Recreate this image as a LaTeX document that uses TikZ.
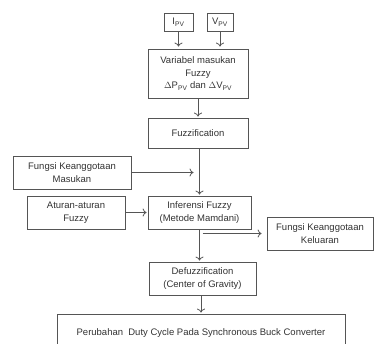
\documentclass[tikz,border=0pt]{standalone}
\usepackage{fontspec}
\setmainfont{Liberation Sans}
\usepackage{tikz}
\usetikzlibrary{arrows,arrows.meta,calc}
\definecolor{garis}{RGB}{85,85,85}
\definecolor{tulisan}{RGB}{50,50,50}
\tikzset{
	kotak/.style={draw=garis, line width=0.8pt, text=tulisan, align=center, inner sep=0pt, font=\fontsize{9.5}{12.5}\selectfont},
	panah/.style={draw=garis, line width=0.8pt, -{To[length=4pt,width=8pt]}}
}
\begin{document}
\begin{tikzpicture}[x=1pt,y=-1pt]
			\useasboundingbox (0,0) rectangle (374,344);
			\clip (0,0) rectangle (374,344);
			\node[kotak, minimum width=29pt, minimum height=18pt] (ipv) at (178.5,22) {I\textsubscript{PV}};
			\node[kotak, minimum width=26pt, minimum height=18pt] (vpv) at (220,22) {V\textsubscript{PV}};
			\node[kotak, minimum width=100pt, minimum height=49pt] (var) at (198,73.5) {Variabel masukan\\Fuzzy\\$\Delta$P\textsubscript{PV} dan $\Delta$V\textsubscript{PV}};
			\node[kotak, minimum width=100pt, minimum height=30pt] (fuzz) at (198,133) {Fuzzification};
			\node[kotak, minimum width=118pt, minimum height=33pt] (masuk) at (72,172.5) {Fungsi Keanggotaan\\Masukan};
			\node[kotak, minimum width=98pt, minimum height=33pt] (aturan) at (76,212.5) {Aturan-aturan\\Fuzzy};
			\node[kotak, minimum width=103pt, minimum height=33pt] (inf) at (199.5,212.5) {Inferensi Fuzzy\\(Metode Mamdani)};
			\node[kotak, minimum width=106pt, minimum height=33pt] (kel) at (320,233.5) {Fungsi Keanggotaan\\Keluaran};
			\node[kotak, minimum width=107pt, minimum height=33pt] (defuzz) at (202.5,278.5) {Defuzzification\\(Center of Gravity)};
			\node[kotak, minimum width=288pt, minimum height=38pt] (ubah) at (201,333) {Perubahan\ \ Duty\ Cycle\ Pada\ Synchronous\ Buck\ Converter};
			\draw[panah, shorten >=2pt] (ipv.south) -- (ipv.south |- var.north);
			\draw[panah, shorten >=2pt] (vpv.south) -- (vpv.south |- var.north);
			\draw[panah, shorten >=1pt] (var.south) -- (fuzz.north);
			\draw[panah, shorten >=1pt] (fuzz.south -| inf.north) -- (inf.north);
			\draw[panah, shorten >=6pt] (masuk.east) -- (masuk.east -| inf.north);
			\draw[panah, shorten >=1pt] (aturan.east) -- (inf.west);
			\draw[panah, shorten >=1pt] (inf.south) -- (inf.south |- defuzz.north);
			\draw[panah, shorten <=3pt, shorten >=5pt] (kel.west -| inf.south) -- (kel.west);
			\draw[panah, shorten >=1pt] (defuzz.south -| ubah.north) -- (ubah.north);
		\end{tikzpicture}
\end{document}
